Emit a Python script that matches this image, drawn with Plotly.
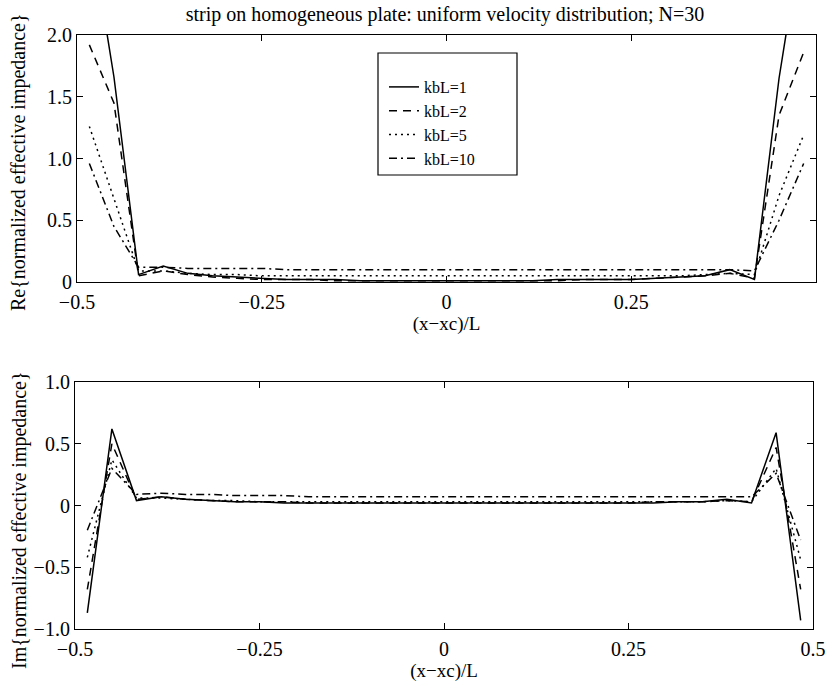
import plotly.graph_objects as go

# element centres of the strip (N=30)
x_pos = [-0.4833, -0.45, -0.4167, -0.3833, -0.35, -0.3167, -0.2833, -0.25, -0.2167, -0.1833,
         -0.15, -0.1167, -0.0833, -0.05, -0.0167, 0.0167, 0.05, 0.0833, 0.1167, 0.15,
         0.1833, 0.2167, 0.25, 0.2833, 0.3167, 0.35, 0.3833, 0.4167, 0.45, 0.4833]

series_names = ["kbL=1", "kbL=2", "kbL=5", "kbL=10"]

re_kb1 = [2.90, 1.66, 0.06, 0.13, 0.07, 0.05, 0.04, 0.03, 0.02, 0.02, 0.02, 0.01, 0.01, 0.01, 0.01,
          0.01, 0.01, 0.01, 0.01, 0.02, 0.02, 0.02, 0.02, 0.03, 0.04, 0.05, 0.10, 0.02, 1.65, 2.90]
re_kb2 = [1.92, 1.45, 0.05, 0.09, 0.06, 0.04, 0.03, 0.02, 0.02, 0.02, 0.01, 0.01, 0.01, 0.01, 0.01,
          0.01, 0.01, 0.01, 0.01, 0.01, 0.02, 0.02, 0.02, 0.03, 0.04, 0.05, 0.07, 0.03, 1.35, 1.86]
re_kb5 = [1.26, 0.68, 0.09, 0.09, 0.07, 0.06, 0.06, 0.05, 0.05, 0.05, 0.05, 0.05, 0.05, 0.05, 0.05,
          0.05, 0.05, 0.05, 0.05, 0.05, 0.05, 0.05, 0.05, 0.05, 0.05, 0.06, 0.07, 0.06, 0.70, 1.19]
re_kb10 = [0.96, 0.45, 0.12, 0.12, 0.11, 0.11, 0.11, 0.11, 0.10, 0.10, 0.10, 0.10, 0.10, 0.10, 0.10,
           0.10, 0.10, 0.10, 0.10, 0.10, 0.10, 0.10, 0.10, 0.10, 0.10, 0.10, 0.10, 0.09, 0.50, 0.96]

im_kb1 = [-0.87, 0.62, 0.04, 0.07, 0.05, 0.04, 0.03, 0.03, 0.02, 0.02, 0.02, 0.02, 0.02, 0.02, 0.02,
          0.02, 0.02, 0.02, 0.02, 0.02, 0.02, 0.02, 0.02, 0.02, 0.03, 0.03, 0.05, 0.02, 0.59, -0.93]
im_kb2 = [-0.68, 0.50, 0.05, 0.07, 0.05, 0.04, 0.03, 0.03, 0.03, 0.02, 0.02, 0.02, 0.02, 0.02, 0.02,
          0.02, 0.02, 0.02, 0.02, 0.02, 0.02, 0.02, 0.02, 0.03, 0.03, 0.03, 0.04, 0.03, 0.47, -0.68]
im_kb5 = [-0.42, 0.37, 0.06, 0.06, 0.05, 0.04, 0.04, 0.03, 0.03, 0.03, 0.03, 0.03, 0.03, 0.03, 0.03,
          0.03, 0.03, 0.03, 0.03, 0.03, 0.03, 0.03, 0.03, 0.03, 0.03, 0.03, 0.04, 0.03, 0.30, -0.44]
im_kb10 = [-0.20, 0.30, 0.09, 0.10, 0.09, 0.09, 0.08, 0.08, 0.08, 0.07, 0.07, 0.07, 0.07, 0.07, 0.07,
           0.07, 0.07, 0.07, 0.07, 0.07, 0.07, 0.07, 0.07, 0.07, 0.07, 0.07, 0.07, 0.07, 0.26, -0.28]

x_tickvals = [-0.5, -0.25, 0, 0.25, 0.5]
x_ticktext = ["\u22120.5", "\u22120.25", "0", "0.25", "0.5"]
re_tickvals = [0, 0.5, 1.0, 1.5, 2.0]
re_ticktext = ["0", "0.5", "1.0", "1.5", "2.0"]
im_tickvals = [-1.0, -0.5, 0, 0.5, 1.0]
im_ticktext = ["\u22121.0", "\u22120.5", "0", "0.5", "1.0"]

dashes = ["solid", "8px,6px", "2px,4px", "8px,4px,2px,4px"]

W, H = 828, 686
FONT = "Liberation Serif"

fig = go.Figure()
re_sets = [re_kb1, re_kb2, re_kb5, re_kb10]
im_sets = [im_kb1, im_kb2, im_kb5, im_kb10]
for name, d, re_v, im_v in zip(series_names, dashes, re_sets, im_sets):
    fig.add_trace(go.Scatter(x=x_pos, y=re_v, mode="lines", name=name,
                             line=dict(color="black", width=1.5, dash=d),
                             xaxis="x", yaxis="y", showlegend=True))
    fig.add_trace(go.Scatter(x=x_pos, y=im_v, mode="lines", name=name,
                             line=dict(color="black", width=1.5, dash=d),
                             xaxis="x2", yaxis="y2", showlegend=False))

axis_common = dict(showline=True, linecolor="black", linewidth=1.2, mirror="ticks",
                   ticks="inside", ticklen=6, tickcolor="black", showgrid=False,
                   zeroline=False, automargin=False,
                   tickfont=dict(family=FONT, size=20, color="black"))
ytitle_font = dict(family=FONT, size=20, color="black")
xtitle_font = dict(family=FONT, size=19, color="black")

fig.update_layout(
    width=W, height=H,
    margin=dict(l=0, r=0, t=0, b=0),
    paper_bgcolor="white", plot_bgcolor="white",
    font=dict(family=FONT, color="black"),
    title=dict(text="strip on homogeneous plate: uniform velocity distribution; N=30",
               x=445 / W, xanchor="center", y=1 - 14 / H, yanchor="middle",
               font=dict(family=FONT, size=20, color="black")),
    xaxis=dict(domain=[77 / W, 816 / W], range=[-0.5, 0.5], anchor="y",
               tickvals=x_tickvals, ticktext=x_ticktext, ticklabelstandoff=2,
               title=dict(text="(x\u2212xc)/L", standoff=0, font=xtitle_font),
               **axis_common),
    yaxis=dict(domain=[1 - 282 / H, 1 - 35 / H], range=[0, 2], anchor="x",
               tickvals=re_tickvals, ticktext=re_ticktext, ticklabelstandoff=0,
               **axis_common),
    xaxis2=dict(domain=[75 / W, 813 / W], range=[-0.5, 0.5], anchor="y2",
                tickvals=x_tickvals, ticktext=x_ticktext, ticklabelstandoff=2,
                title=dict(text="(x\u2212xc)/L", standoff=0, font=xtitle_font),
                **axis_common),
    yaxis2=dict(domain=[1 - 629 / H, 1 - 382 / H], range=[-1, 1], anchor="x2",
                tickvals=im_tickvals, ticktext=im_ticktext, ticklabelstandoff=0,
                **axis_common),
    legend=dict(x=384 / W, y=1 - 70 / H, xanchor="left", yanchor="top",
                bgcolor="rgba(255,255,255,0)", borderwidth=0,
                font=dict(family=FONT, size=16, color="black"),
                itemwidth=30, tracegroupgap=0),
    shapes=[dict(type="rect", xref="paper", yref="paper",
                 x0=378 / W, x1=517 / W, y0=1 - 175 / H, y1=1 - 53 / H,
                 line=dict(color="black", width=1.2), fillcolor="white", layer="below")],
    annotations=[
        dict(text="Re{normalized effective impedance}", textangle=-90,
             xref="paper", yref="paper", x=19 / W, y=1 - 162 / H,
             xanchor="center", yanchor="middle", showarrow=False, font=ytitle_font),
        dict(text="Im{normalized effective impedance}", textangle=-90,
             xref="paper", yref="paper", x=19 / W, y=1 - 520 / H,
             xanchor="center", yanchor="middle", showarrow=False, font=ytitle_font),
    ],
)

fig.write_html("out.html")
